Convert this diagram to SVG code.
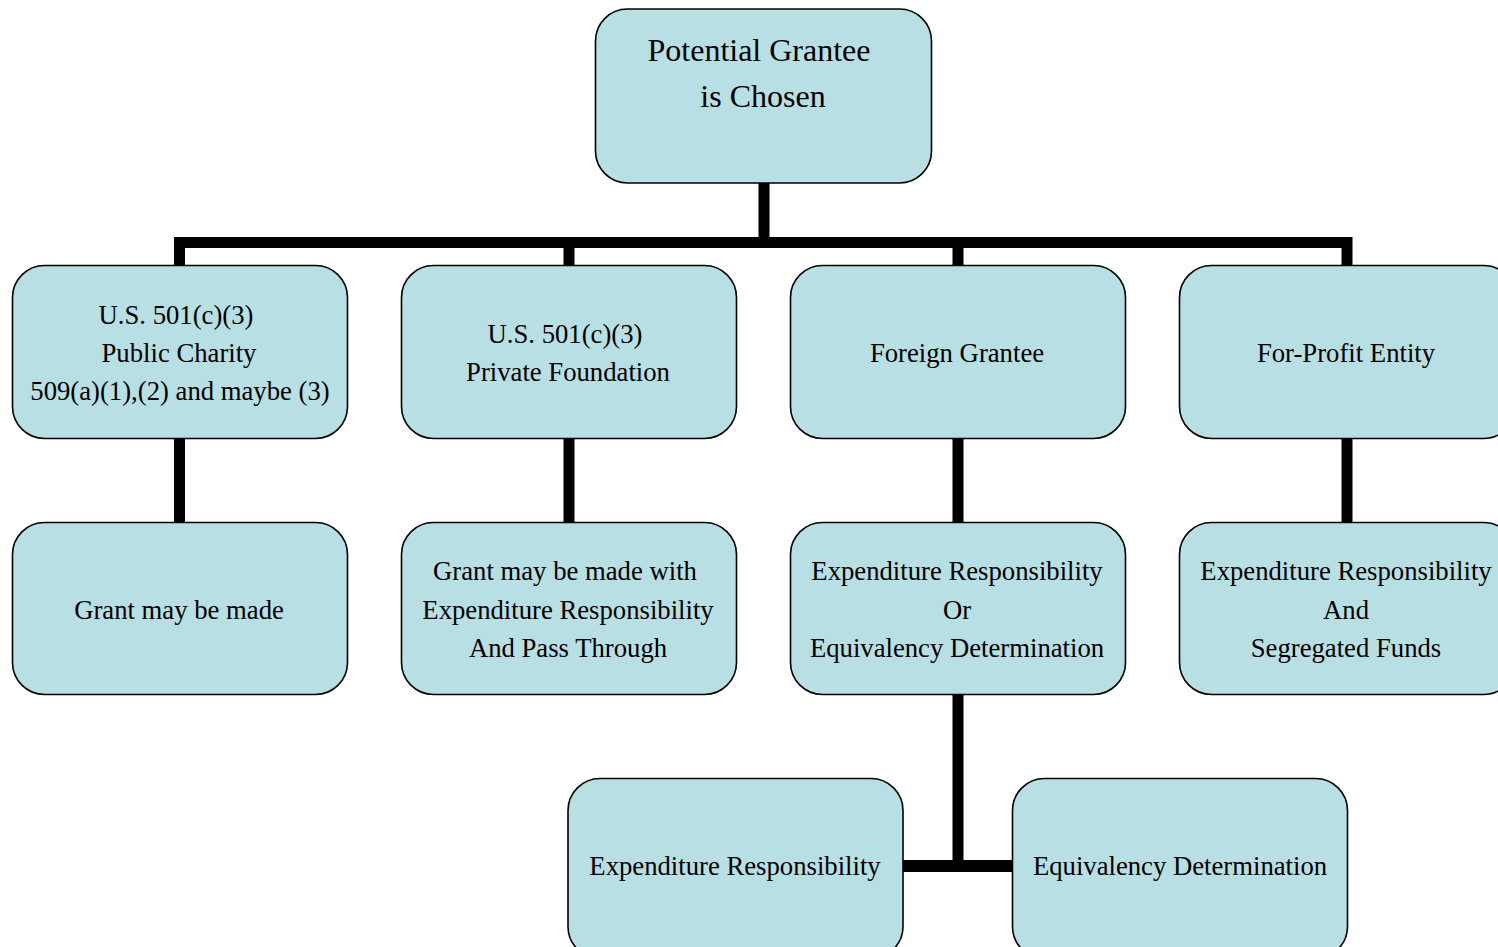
<svg xmlns="http://www.w3.org/2000/svg" width="1498" height="947" viewBox="0 0 1498 947">
<style>
.box{fill:#b8dfe3;stroke:#000;stroke-width:1.6}
.t{font-family:"Liberation Serif","Times New Roman",serif;font-size:26.7px;fill:#000;text-anchor:middle}
.big{font-size:32px}
.c{stroke:#000;stroke-width:11;fill:none;stroke-linecap:butt}
</style>
<rect width="1498" height="947" fill="#fff"/>
<g id="connectors">
<path class="c" d="M764 183V243"/>
<path class="c" d="M179.5 266V242.5H1347V266"/>
<path class="c" d="M569 242.5V266M958 242.5V266"/>
<path class="c" d="M179.5 439V522M569 439V522M958 439V522M1347 439V522"/>
<path class="c" d="M958 695V866"/>
<path class="c" d="M903 866H1012" style="stroke-width:12"/>
</g>
<g id="n-root">
<rect class="box" x="595.5" y="9" width="336" height="174" rx="32"/>
<text class="t big" x="759" y="61">Potential Grantee</text>
<text class="t big" x="763" y="107">is Chosen</text>
</g>
<g id="n-public">
<rect class="box" x="12.5" y="265.5" width="335" height="173" rx="32"/>
<text class="t" x="176" y="324">U.S. 501(c)(3)</text>
<text class="t" x="179" y="362">Public Charity</text>
<text class="t" x="180" y="400">509(a)(1),(2) and maybe (3)</text>
</g>
<g id="n-private">
<rect class="box" x="401.5" y="265.5" width="335" height="173" rx="32"/>
<text class="t" x="565" y="343">U.S. 501(c)(3)</text>
<text class="t" x="568" y="381">Private Foundation</text>
</g>
<g id="n-foreign">
<rect class="box" x="790.5" y="265.5" width="335" height="173" rx="32"/>
<text class="t" x="957" y="362">Foreign Grantee</text>
</g>
<g id="n-forprofit">
<rect class="box" x="1179.5" y="265.5" width="336" height="173" rx="32"/>
<text class="t" x="1346" y="362">For-Profit Entity</text>
</g>
<g id="n-grant">
<rect class="box" x="12.5" y="522.5" width="335" height="172" rx="32"/>
<text class="t" x="179" y="619">Grant may be made</text>
</g>
<g id="n-grant-er">
<rect class="box" x="401.5" y="522.5" width="335" height="172" rx="32"/>
<text class="t" x="565" y="580">Grant may be made with</text>
<text class="t" x="568" y="619">Expenditure Responsibility</text>
<text class="t" x="568" y="657">And Pass Through</text>
</g>
<g id="n-er-or-ed">
<rect class="box" x="790.5" y="522.5" width="335" height="172" rx="32"/>
<text class="t" x="957" y="580">Expenditure Responsibility</text>
<text class="t" x="957" y="619">Or</text>
<text class="t" x="957" y="657">Equivalency Determination</text>
</g>
<g id="n-er-seg">
<rect class="box" x="1179.5" y="522.5" width="336" height="172" rx="32"/>
<text class="t" x="1346" y="580">Expenditure Responsibility</text>
<text class="t" x="1346" y="619">And</text>
<text class="t" x="1346" y="657">Segregated Funds</text>
</g>
<g id="n-er">
<rect class="box" x="568" y="778.5" width="335" height="180" rx="32"/>
<text class="t" x="735" y="875">Expenditure Responsibility</text>
</g>
<g id="n-ed">
<rect class="box" x="1012.5" y="778.5" width="335" height="180" rx="32"/>
<text class="t" x="1180" y="875">Equivalency Determination</text>
</g>
</svg>
